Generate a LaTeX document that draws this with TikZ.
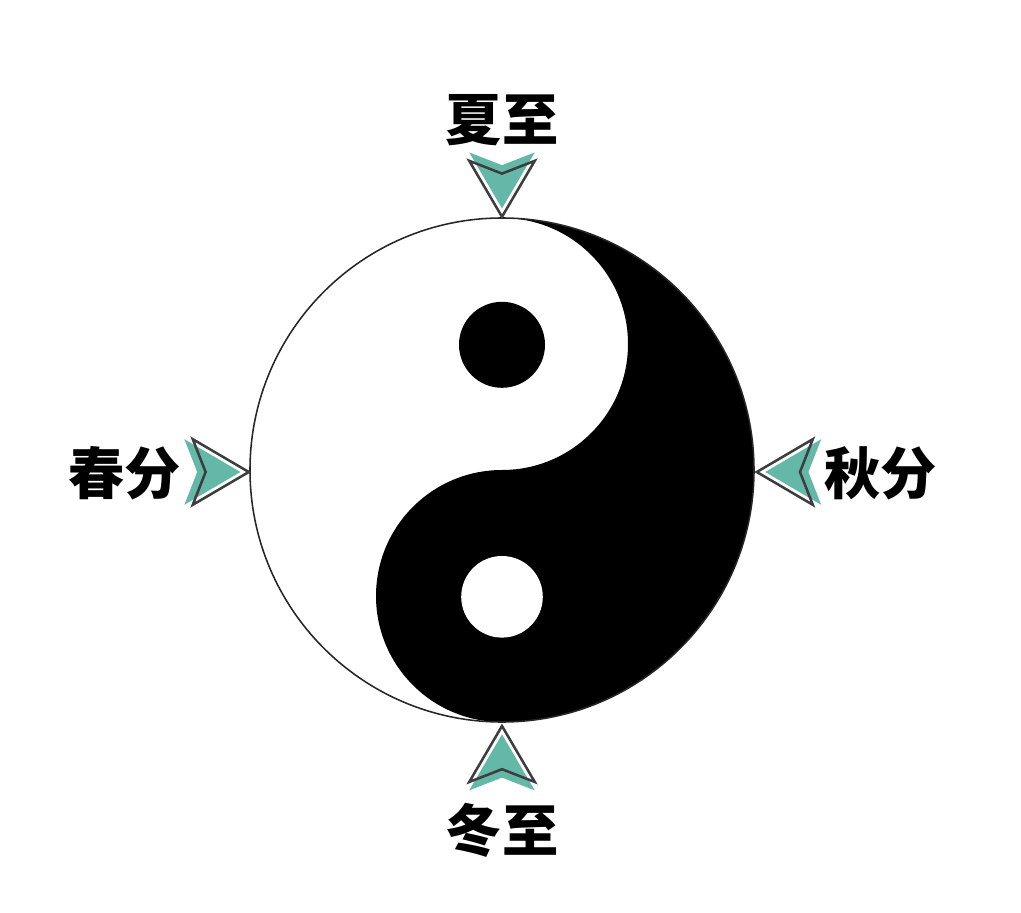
\documentclass[tikz,border=0pt]{standalone}
\usepackage{fontspec}
\newfontfamily\cjk{Noto Sans CJK SC}
\usepackage{tikz}
\usetikzlibrary{positioning}
\definecolor{arrowteal}{RGB}{99,184,168}
\definecolor{arrowedge}{RGB}{62,62,62}

\begin{document}
\begin{tikzpicture}[
  season/.style={font=\cjk\bfseries\fontsize{40}{40}\selectfont, inner sep=0pt},
  rim/.style={draw=black!85, line width=1.1pt},
]
\tikzset{
  marker/.pic={
    \fill[arrowteal] (-0.21,0) -- (-1.61,0.82) -- (-1.29,0) -- (-1.61,-0.82) -- cycle;
    \draw[arrowedge, line width=1.8pt, line join=miter] (0,0) -- (-1.4,0.82) -- (-1.08,0) -- (-1.4,-0.82) -- cycle;
  },
}
\def\R{6.3} \def\r{3.15} \def\tip{6.33}
\useasboundingbox (-12.55,11.75) rectangle (12.975,-11.05);
% disc
\fill[white] (0,0) circle (\R);
\fill[black] (0,\R) arc[start angle=90, end angle=-90, radius=\R]
  arc[start angle=270, end angle=90, radius=\r]
  arc[start angle=-90, end angle=90, radius=\r] -- cycle;
\fill[black] (0,3.13) circle (1.075);
\fill[white] (0,-3.17) circle (1.02);
\draw[rim] (0,0) circle (\R);
% markers
\pic[rotate=-90] at (0,\tip) {marker};
\pic[rotate=90] at (0,-\tip-0.07) {marker};
\pic at (-\tip,-0.05) {marker};
\pic[rotate=180] at (\tip+0.04,-0.05) {marker};
% labels
\node[season] (summer) at (0,8.75) {夏至};
\node[season] (winter) at (0,-9.0) {冬至};
\node[season] (spring) at (-9.43,-0.08) {春分};
\node[season] (autumn) at (9.47,-0.08) {秋分};
\end{tikzpicture}
\end{document}
